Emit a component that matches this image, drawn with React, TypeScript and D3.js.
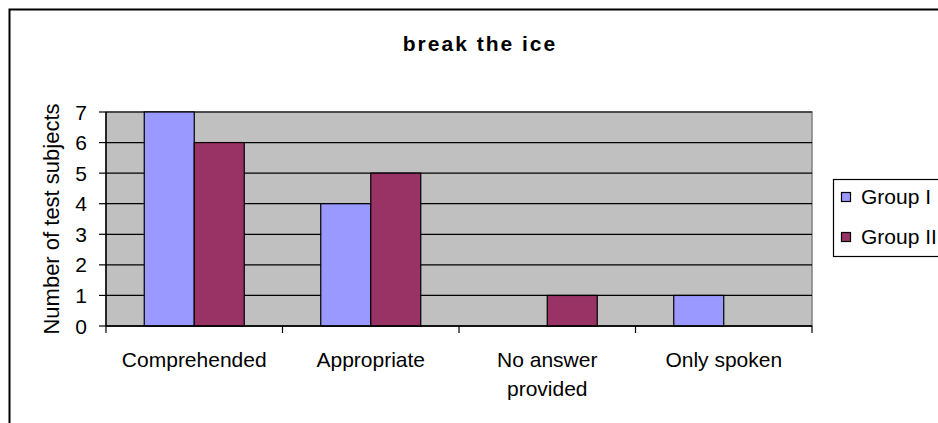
import React from "react";
import * as d3 from "d3";

const categories = ["Comprehended", "Appropriate", "No answer provided", "Only spoken"];
const categoryLines = [["Comprehended"], ["Appropriate"], ["No answer", "provided"], ["Only spoken"]];
const groups = ["Group I", "Group II"];
const group1 = [7, 4, 0, 1];
const group2 = [6, 5, 1, 0];
const yTicks = [0, 1, 2, 3, 4, 5, 6, 7];
const colors = ["#9999FF", "#993366"];

export default function App() {
  const W = 938, H = 423;
  const left = 106, right = 812, top = 112, bottom = 326;
  const x = d3.scaleBand<string>().domain(categories).range([left, right]).paddingInner(0).paddingOuter(0);
  const bw = x.bandwidth();
  const xg = d3.scaleBand<string>().domain(groups).range([0, bw]).paddingInner(0).paddingOuter(0.765);
  const y = d3.scaleLinear().domain([0, 7]).range([bottom, top]);
  const series = [group1, group2];
  const font = "Arial, 'Liberation Sans', sans-serif";
  const boundaries = categories.map((c) => x(c)!).concat([right]);

  return (
    <svg width={W} height={H} style={{ position: "absolute", left: 0, top: 0, display: "block", background: "#fff" }} fontFamily={font}>
      <rect x={9.5} y={9.5} width={1000} height={600} fill="#fff" stroke="#000" strokeWidth={2} />
      <text x={480} y={51} textAnchor="middle" fontSize={21} fontWeight="bold" letterSpacing={2}>break the ice</text>
      <rect x={left} y={top} width={right - left} height={bottom - top} fill="#C0C0C0" stroke="#808080" strokeWidth={1.5} />
      {yTicks.map((t) => (
        <g key={t}>
          <line x1={left} x2={right} y1={y(t)} y2={y(t)} stroke="#000" strokeWidth={1.2} />
          <line x1={left - 7} x2={left} y1={y(t)} y2={y(t)} stroke="#000" strokeWidth={1.2} />
          <text x={87} y={y(t) + 7.5} textAnchor="end" fontSize={21}>{t}</text>
        </g>
      ))}
      {series.map((vals, si) =>
        vals.map((v, ci) =>
          v > 0 ? (
            <rect key={`${si}-${ci}`} x={x(categories[ci])! + xg(groups[si])!} y={y(v)} width={xg.bandwidth()} height={y(0) - y(v)} fill={colors[si]} stroke="#000" strokeWidth={1.2} />
          ) : null
        )
      )}
      <line x1={left} x2={left} y1={top} y2={bottom} stroke="#000" strokeWidth={1.5} />
      <line x1={left} x2={right} y1={bottom} y2={bottom} stroke="#000" strokeWidth={1.5} />
      {boundaries.map((b, i) => (
        <line key={i} x1={b} x2={b} y1={bottom} y2={bottom + 7} stroke="#000" strokeWidth={1.2} />
      ))}
      {categoryLines.map((lines, ci) => (
        <text key={ci} x={x(categories[ci])! + bw / 2} y={367} textAnchor="middle" fontSize={21}>
          {lines.map((l, li) => (
            <tspan key={li} x={x(categories[ci])! + bw / 2} dy={li === 0 ? 0 : 29}>{l}</tspan>
          ))}
        </text>
      ))}
      <text transform={`translate(59,${(top + bottom) / 2}) rotate(-90)`} textAnchor="middle" fontSize={22}>Number of test subjects</text>
      <rect x={833.5} y={179.5} width={130} height={77} fill="#fff" stroke="#000" strokeWidth={1.2} />
      {groups.map((g, i) => (
        <g key={g}>
          <rect x={841.5} y={192.5 + i * 40} width={9} height={9} fill={colors[i]} stroke="#000" strokeWidth={1.2} />
          <text x={861} y={204 + i * 40} fontSize={21}>{g}</text>
        </g>
      ))}
    </svg>
  );
}
